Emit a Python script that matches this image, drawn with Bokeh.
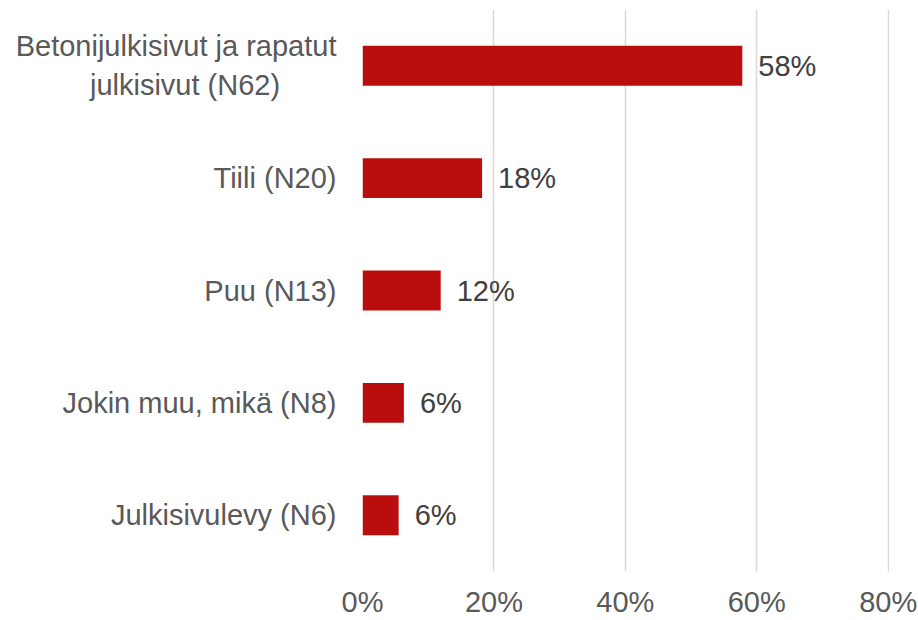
from bokeh.plotting import figure
from bokeh.models import ColumnDataSource, FactorRange, LabelSet, NumeralTickFormatter, FixedTicker
from bokeh.core.properties import value
from bokeh.embed import file_html
from bokeh.resources import INLINE

NBSP = "\u00a0"
categories = ["Betonijulkisivut ja rapatut\njulkisivut (N62)" + NBSP * 7, "Tiili (N20)", "Puu (N13)",
              "Jokin muu, mikä (N8)", "Julkisivulevy (N6)"]
values = [0.578, 0.182, 0.119, 0.063, 0.055]
x_ticks = [0, 0.2, 0.4, 0.6, 0.8]

FONT = "Liberation Sans"
BAR = "#BA0E0E"

src = ColumnDataSource(dict(cat=categories, val=values,
                            lab=[f"{round(v * 100):.0f}%" for v in values]))

p = figure(width=918, height=620, output_backend="svg", toolbar_location=None,
           y_range=FactorRange(*reversed(categories), range_padding=0),
           x_range=(0, 0.802),
           min_border_left=362, min_border_right=29, min_border_top=9, min_border_bottom=48)

p.hbar(y="cat", right="val", left=0, height=0.355, source=src, color=BAR, line_color=None)

p.add_layout(LabelSet(x="val", y="cat", text="lab", source=src, x_offset=16,
                      text_align="left", text_baseline="middle",
                      text_font=value(FONT), text_font_size=value("29px"),
                      text_color=value("#404040")))

p.outline_line_color = None
p.ygrid.grid_line_color = None
p.xgrid.grid_line_color = "#D9D9D9"
p.xgrid.grid_line_width = 1.5

p.xaxis.ticker = FixedTicker(ticks=x_ticks)
p.xaxis.formatter = NumeralTickFormatter(format="0%")
p.xaxis.axis_line_color = None
p.xaxis.major_tick_line_color = None
p.xaxis.minor_tick_line_color = None
p.xaxis.major_tick_out = 0
p.xaxis.major_tick_in = 0
p.xaxis.minor_tick_out = 0
p.xaxis.major_label_text_font = FONT
p.xaxis.major_label_text_font_size = "29px"
p.xaxis.major_label_text_color = "#595959"
p.xaxis.major_label_standoff = 14

p.yaxis.axis_line_color = None
p.yaxis.major_tick_line_color = None
p.yaxis.minor_tick_line_color = None
p.yaxis.major_tick_out = 0
p.yaxis.major_tick_in = 0
p.yaxis.minor_tick_out = 0
p.yaxis.major_label_text_font = FONT
p.yaxis.major_label_text_font_size = "29px"
p.yaxis.major_label_text_color = "#595959"
p.yaxis.major_label_standoff = 26

open("out.html", "w").write(file_html(p, INLINE))
